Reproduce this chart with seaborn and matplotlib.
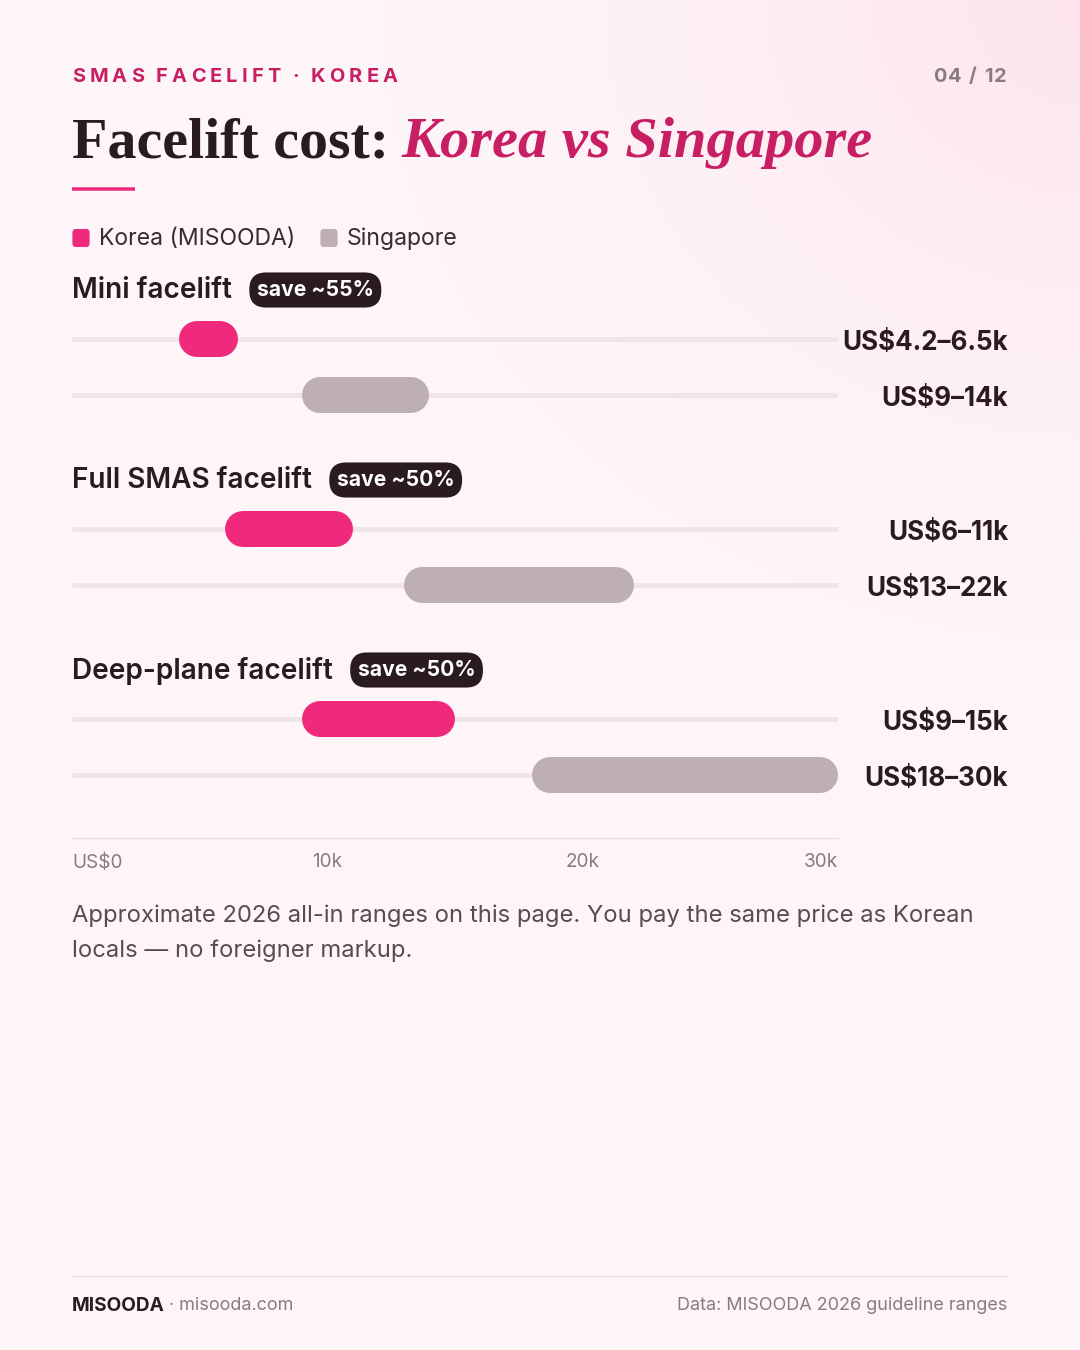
import numpy as np
import pandas as pd
import seaborn as sns
import matplotlib
matplotlib.use('Agg')
import matplotlib.pyplot as plt
import matplotlib.transforms as mtransforms
from matplotlib.patches import FancyBboxPatch

# data (US$ thousands)
procedures = ["Mini facelift", "Full SMAS facelift", "Deep-plane facelift"]
savings = ["save ~55%", "save ~50%", "save ~50%"]
korea_low = [4.2, 6, 9]
korea_high = [6.5, 11, 15]
singapore_low = [9, 13, 18]
singapore_high = [14, 22, 30]
korea_labels = ["US$4.2–6.5k", "US$6–11k", "US$9–15k"]
singapore_labels = ["US$9–14k", "US$13–22k", "US$18–30k"]
tick_values = [0, 10, 20, 30]
tick_labels = ["US$0", "10k", "20k", "30k"]

PINK = "#ef2a7d"
GREY_BAR = "#beaeb5"
TRACK = "#f0e5e9"
DARK = "#2a1b22"
MUTED = "#8a7a82"
KICKER = "#c81e64"
BG = "#fdf5f8"

sns.set_theme(style="white")
plt.rcParams['font.family'] = ['Inter', 'DejaVu Sans']

W, H = 1080, 1350
fig = plt.figure(figsize=(W / 100, H / 100), dpi=100)
fig.patch.set_facecolor(BG)


def fx(x):
    return x / W


def fy(y):
    return 1 - y / H


def px2pt(p):
    return p * 72 / 100


# soft pink glow in the top-right corner
bg_ax = fig.add_axes([0, 0, 1, 1], zorder=-10)
yy, xx = np.mgrid[0:H:4, 0:W:4]
d = np.sqrt((xx - W) ** 2 + (yy * 1.1) ** 2)
glow = np.clip(1 - d / 700, 0, 1) ** 1.5
c0 = np.array(matplotlib.colors.to_rgb(BG))
c1 = np.array(matplotlib.colors.to_rgb("#fde4ed"))
img = c0 + (c1 - c0) * glow[..., None]
bg_ax.imshow(img, extent=[0, W, H, 0], aspect='auto')
bg_ax.set_xlim(0, W)
bg_ax.set_ylim(H, 0)
bg_ax.axis('off')

renderer = fig.canvas.get_renderer()


def tracked(x, y, s, track, size, align='left', space=0.45, **kw):
    # draw text with letter spacing, char by char
    widths = []
    for ch in s:
        t = fig.text(0, 0, ch if ch != ' ' else 'n', fontsize=size, **kw)
        w = t.get_window_extent(renderer).width
        if ch == ' ':
            w *= space
        widths.append(w)
        t.remove()
    total = sum(widths) + track * (len(s) - 1)
    if align == 'right':
        x = x - total
    for ch, w in zip(s, widths):
        if ch != ' ':
            fig.text(fx(x), fy(y), ch, fontsize=size, va='center', **kw)
        x += w + track


# header
tracked(72, 77, "SMAS FACELIFT · KOREA", 4.1, px2pt(20), space=0.3, color=KICKER, fontweight='bold')
tracked(1007, 77, "04 / 12", 1.8, px2pt(20), align='right', space=0.3, color=MUTED, fontweight='bold')

t1 = fig.text(fx(72), fy(157), "Facelift cost:", fontsize=px2pt(58),
              family=['Liberation Serif'], fontweight='bold', color=DARK, va='baseline')
ext = t1.get_window_extent(renderer)
fig.text(fx(ext.x1 + 12), fy(157), "Korea vs Singapore", fontsize=px2pt(58.5),
         family=['Liberation Serif'], fontstyle='italic', fontweight='bold', color=KICKER, va='baseline')

fig.add_artist(plt.Line2D([fx(72), fx(135)], [fy(189), fy(189)], color=PINK, lw=px2pt(3.5),
                          solid_capstyle='butt'))

# legend
for xs, col, lab in [(72, PINK, "Korea (MISOODA)"), (320, GREY_BAR, "Singapore")]:
    fig.add_artist(FancyBboxPatch((fx(xs + 2), fy(245)), fx(14), 14 / H,
                                  boxstyle="round,pad=0.0015,rounding_size=0.003",
                                  transform=fig.transFigure, facecolor=col, edgecolor='none'))
    fig.text(fx(xs + 27), fy(239), lab, fontsize=px2pt(23), color="#3a2a32", va='center')

# main axes: x in US$k, y in pixel-like units
ax_top, ax_bot = 260, 838
ax = fig.add_axes([fx(72), fy(ax_bot), fx(838 - 72), (ax_bot - ax_top) / H])
ax.set_facecolor('none')
y0 = 339
ax.set_xlim(0, 30)
ax.set_ylim(ax_bot - y0, ax_top - y0)

group_gap, row_gap = 190, 56
bar_h = 36
r_k = (bar_h / 2) * 30 / (838 - 72)  # half bar height in data units

rows = []
for i in range(len(procedures)):
    rows.append(dict(proc=procedures[i], country="Korea", lo=korea_low[i], hi=korea_high[i],
                     label=korea_labels[i], y=i * group_gap))
    rows.append(dict(proc=procedures[i], country="Singapore", lo=singapore_low[i], hi=singapore_high[i],
                     label=singapore_labels[i], y=i * group_gap + row_gap))
df = pd.DataFrame(rows)
palette = {"Korea": PINK, "Singapore": GREY_BAR}

right_tf = mtransforms.blended_transform_factory(fig.transFigure, ax.transData)
for _, row in df.iterrows():
    ax.plot([0, 30], [row.y, row.y], color=TRACK, lw=px2pt(5), solid_capstyle='butt', zorder=1)
    ax.plot([row.lo + r_k, row.hi - r_k], [row.y, row.y], color=palette[row.country],
            lw=px2pt(bar_h), solid_capstyle='round', zorder=2)
    ax.text(fx(1008), row.y + 4, row.label, transform=right_tf, ha='right', va='center',
            fontsize=px2pt(26), fontweight='bold', color=DARK)

# group headings with savings badge
for i, (proc, sv) in enumerate(zip(procedures, savings)):
    yh = i * group_gap - 50
    th = ax.text(0, yh + 2, proc, fontsize=px2pt(28), fontweight='semibold', color=DARK,
                 va='center', ha='left')
    e = th.get_window_extent(renderer)
    xb = ax.transData.inverted().transform((e.x1 + 25, 0))[0]
    ax.text(xb, yh + 1, sv, fontsize=px2pt(21), fontweight='bold', color='white', va='center', ha='left',
            bbox=dict(boxstyle="round,pad=0.36,rounding_size=0.8", facecolor=DARK, edgecolor='none'))

# axis and ticks
sns.despine(ax=ax, left=True, top=True, right=True)
ax.spines['bottom'].set_color("#e6dbe0")
ax.spines['bottom'].set_linewidth(px2pt(1.2))
ax.set_yticks([])
ax.set_xticks(tick_values)
ax.set_xticklabels(tick_labels)
ax.tick_params(axis='x', length=0, pad=11, labelsize=px2pt(19), labelcolor=MUTED)
for lab, ha in zip(ax.get_xticklabels(), ['left', 'center', 'center', 'right']):
    lab.set_ha(ha)
ax.grid(False)

# note
fig.text(fx(72), fy(916), "Approximate 2026 all-in ranges on this page. You pay the same price as Korean",
         fontsize=px2pt(23.8), color="#5a4a52", va='center')
fig.text(fx(72), fy(951), "locals — no foreigner markup.", fontsize=px2pt(23.8), color="#5a4a52", va='center')

# footer
fig.add_artist(plt.Line2D([fx(72), fx(1007)], [fy(1276), fy(1276)], color="#e6dbe0", lw=px2pt(1.2)))
tf = fig.text(fx(72), fy(1306), "MISOODA", fontsize=px2pt(19), fontweight='bold', color=DARK, va='center')
e = tf.get_window_extent(renderer)
fig.text(fx(e.x1 + 4), fy(1306), "· misooda.com", fontsize=px2pt(18), color=MUTED, va='center')
fig.text(fx(1007), fy(1306), "Data: MISOODA 2026 guideline ranges", fontsize=px2pt(18),
         color=MUTED, va='center', ha='right')

fig.savefig("out.png", dpi=100, facecolor=fig.get_facecolor())
